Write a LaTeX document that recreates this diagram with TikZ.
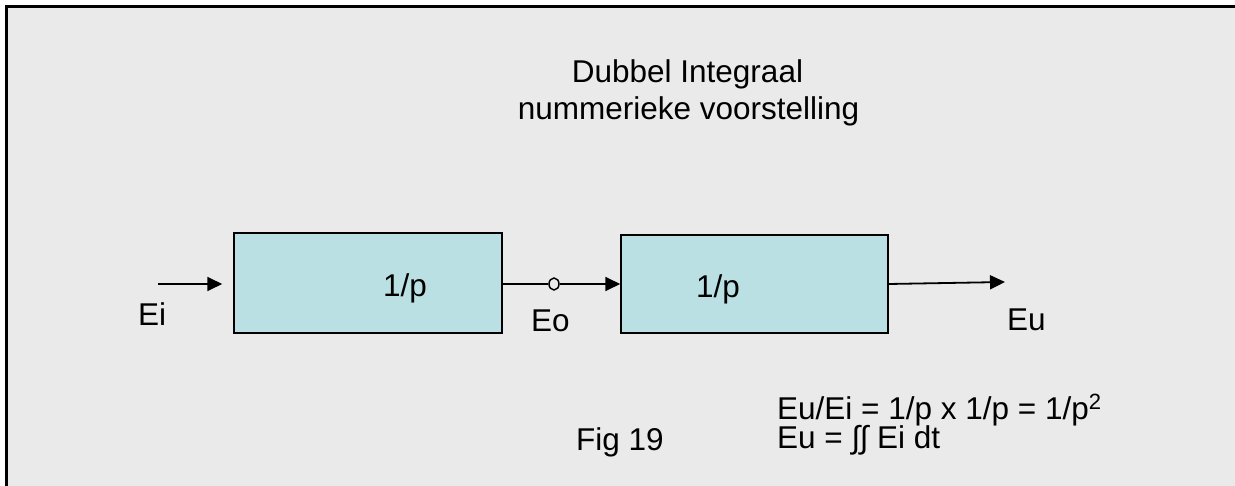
\documentclass[tikz,border=0pt]{standalone}
\usepackage{fontspec}
\setmainfont{Liberation Sans}
\usetikzlibrary{arrows.meta,shapes.geometric}
\definecolor{bg}{HTML}{EAEAEA}
\definecolor{boxfill}{HTML}{BAE0E3}
\begin{document}
\begin{tikzpicture}[x=1pt,y=-1pt,
  blk/.style={draw=black,line width=1.5pt,fill=boxfill,minimum width=#1,minimum height=100pt,inner sep=0pt},
  lbl/.style={anchor=base west,inner sep=0pt,font=\fontsize{31.5}{36}\selectfont},
  ttl/.style={lbl,anchor=base},
  conn/.style={line width=1.8pt,-{Triangle[length=15pt,width=14pt]}},
  wire/.style={line width=1.8pt}]
\useasboundingbox (0,0) rectangle (1235,486);
\clip (0,0) rectangle (1235,486);
\draw[fill=bg,line width=3pt] (6,7) rectangle (1250,500);
% blocks
\node[blk=268pt] (b1) at (368,283) {};
\node[blk=267pt,minimum height=98pt] (b2) at (754.5,284) {};
% small circle
\node[draw=black,line width=1.5pt,fill=bg,ellipse,minimum width=10pt,minimum height=12pt,inner sep=0pt] (o) at (554,284) {};
% free ends
\coordinate (ein) at (158,284);
\coordinate (eout) at (1005,282);
% connectors
\draw[conn] (ein) -- ([xshift=-11pt,yshift=-1pt]b1.west);
\draw[wire] ([yshift=-1pt]b1.east) -- (o.west);
\draw[conn] (o.east) -- (b2.west);
\draw[conn] (b2.east) -- (eout);
% texts
\node[ttl] (t1) at (687.5,83) {Dubbel Integraal};
\node[ttl] (t2) at (688.5,120) {nummerieke voorstelling};
\node[lbl] (p1) at (383,297) {1/p};
\node[lbl] (p2) at (696,298) {1/p};
\node[lbl] (ei) at (138,326) {Ei};
\node[lbl] (eo) at (531,332) {Eo};
\node[lbl] (eu) at (1007,331) {Eu};
\node[lbl] (fig) at (576,450) {Fig 19};
\node[lbl] (f1) at (777,419) {Eu/Ei = 1/p x 1/p = 1/p\textsuperscript{2}};
\node[lbl] (f2) at (777,448) {Eu = ∫\kern-0.5pt∫ Ei dt};
\end{tikzpicture}
\end{document}
